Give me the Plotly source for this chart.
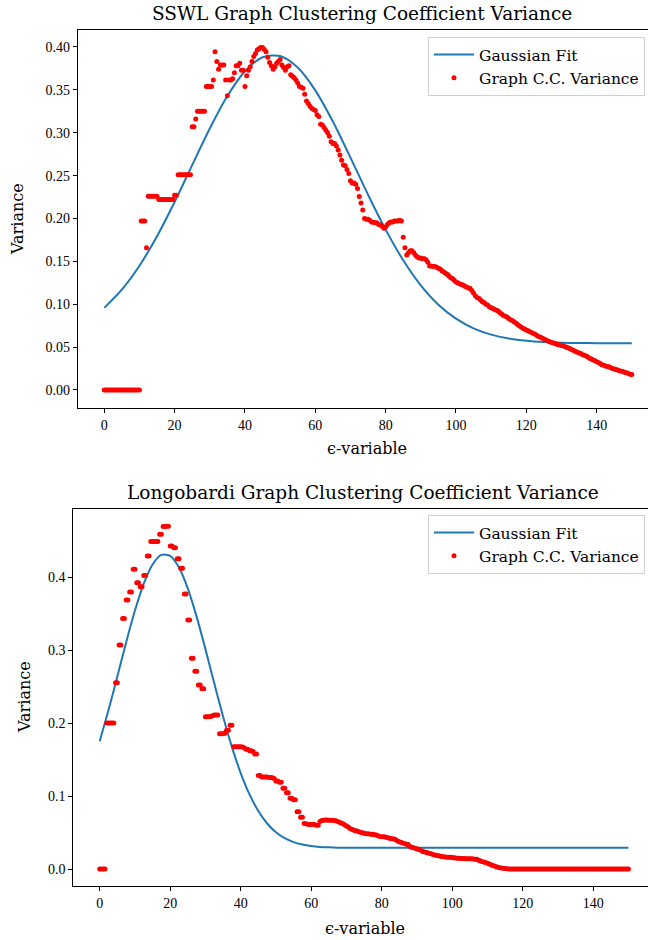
import plotly.graph_objects as go

# epsilon grid of the measurements (step 0.5 from 0 to 150)
eps_grid = [i * 0.5 for i in range(301)]

# SSWL graph clustering-coefficient variance
sswl_variance = [
    0.0, 0.0, 0.0, 0.0, 0.0, 0.0, 0.0, 0.0, 0.0, 0.0,
    0.0, 0.0, 0.0, 0.0, 0.0, 0.0, 0.0, 0.0, 0.0, 0.0,
    0.0, 0.197, 0.197, 0.197, 0.166, 0.226, 0.226, 0.226, 0.226, 0.226,
    0.226, 0.222, 0.222, 0.222, 0.222, 0.222, 0.222, 0.222, 0.222, 0.222,
    0.227, 0.227, 0.251, 0.251, 0.251, 0.251, 0.251, 0.251, 0.251, 0.251,
    0.307, 0.307, 0.316, 0.325, 0.325, 0.325, 0.325, 0.325, 0.354, 0.354,
    0.354, 0.354, 0.3615, 0.3945, 0.383, 0.374, 0.379, 0.379, 0.379, 0.3615,
    0.343, 0.3615, 0.3615, 0.363, 0.370, 0.378, 0.378, 0.381, 0.373, 0.373,
    0.354, 0.3665, 0.373, 0.377, 0.383, 0.389, 0.3925, 0.3965, 0.398, 0.3995,
    0.3995, 0.397, 0.3945, 0.388, 0.382, 0.378, 0.374, 0.377, 0.381, 0.383,
    0.3855, 0.379, 0.376, 0.373, 0.377, 0.378, 0.3675, 0.366, 0.364, 0.3615,
    0.358, 0.354, 0.353, 0.352, 0.345, 0.337, 0.334, 0.331, 0.3285, 0.327,
    0.326, 0.321, 0.319, 0.310, 0.309, 0.306, 0.303, 0.300, 0.296, 0.2895,
    0.2875, 0.2875, 0.2845, 0.280, 0.274, 0.268, 0.2625, 0.2615, 0.257, 0.2525,
    0.244, 0.2415, 0.2415, 0.240, 0.235, 0.2255, 0.218, 0.210, 0.200, 0.199,
    0.199, 0.198, 0.196, 0.1955, 0.195, 0.195, 0.193, 0.1925, 0.191, 0.1885,
    0.190, 0.193, 0.195, 0.196, 0.196, 0.197, 0.197, 0.197, 0.198, 0.197,
    0.178, 0.166, 0.1575, 0.160, 0.1625, 0.1625, 0.160, 0.157, 0.155, 0.154,
    0.154, 0.153, 0.153, 0.152, 0.149, 0.1445, 0.1445, 0.144, 0.144, 0.143,
    0.142, 0.141, 0.139, 0.138, 0.136, 0.135, 0.133, 0.131, 0.130, 0.128,
    0.126, 0.125, 0.124, 0.123, 0.1225, 0.121, 0.120, 0.119, 0.1185, 0.116,
    0.113, 0.110, 0.108, 0.107, 0.105, 0.103, 0.102, 0.100, 0.099, 0.097,
    0.096, 0.095, 0.094, 0.093, 0.092, 0.090, 0.0885, 0.087, 0.086, 0.085,
    0.0835, 0.082, 0.081, 0.0795, 0.078, 0.0765, 0.075, 0.0735, 0.072, 0.071,
    0.070, 0.069, 0.068, 0.067, 0.066, 0.065, 0.0635, 0.0625, 0.0615, 0.0605,
    0.0595, 0.0585, 0.0575, 0.0565, 0.0558, 0.055, 0.0545, 0.0535, 0.053, 0.0525,
    0.052, 0.0515, 0.0505, 0.0498, 0.049, 0.048, 0.047, 0.046, 0.045, 0.044,
    0.0432, 0.0425, 0.0412, 0.0405, 0.0395, 0.0385, 0.037, 0.036, 0.035, 0.034,
    0.033, 0.032, 0.031, 0.0295, 0.0288, 0.028, 0.0275, 0.027, 0.026, 0.0252,
    0.0245, 0.024, 0.0232, 0.0225, 0.022, 0.0215, 0.0205, 0.020, 0.0192, 0.0185,
    0.018,
]

# Longobardi graph clustering-coefficient variance
longo_variance = [
    0.0, 0.0, 0.0, 0.0, 0.2, 0.2, 0.2, 0.2, 0.2, 0.255,
    0.255, 0.307, 0.307, 0.343, 0.343, 0.3685, 0.3685, 0.3795, 0.3795, 0.4105,
    0.4105, 0.392, 0.392, 0.3865, 0.3865, 0.402, 0.402, 0.4288, 0.4288, 0.4485,
    0.4485, 0.4485, 0.4485, 0.4485, 0.4585, 0.4585, 0.469, 0.469, 0.4695, 0.4695,
    0.4425, 0.4425, 0.440, 0.440, 0.425, 0.425, 0.412, 0.412, 0.3767, 0.3767,
    0.341, 0.341, 0.2886, 0.2886, 0.271, 0.271, 0.252, 0.252, 0.247, 0.247,
    0.2086, 0.2086, 0.2086, 0.209, 0.210, 0.211, 0.211, 0.211, 0.1853, 0.1853,
    0.1853, 0.186, 0.190, 0.190, 0.197, 0.197, 0.1675, 0.1675, 0.1675, 0.1675,
    0.1675, 0.167, 0.166, 0.164, 0.164, 0.162, 0.162, 0.161, 0.1575, 0.1575,
    0.128, 0.128, 0.126, 0.126, 0.126, 0.126, 0.1255, 0.1255, 0.125, 0.124,
    0.1205, 0.1205, 0.119, 0.119, 0.1105, 0.1105, 0.1045, 0.1045, 0.0968, 0.0968,
    0.095, 0.095, 0.0785, 0.0785, 0.0708, 0.0708, 0.0625, 0.062, 0.0615, 0.061,
    0.061, 0.0612, 0.0605, 0.060, 0.060, 0.065, 0.0665, 0.067, 0.0672, 0.0672,
    0.067, 0.067, 0.0668, 0.0665, 0.066, 0.065, 0.064, 0.063, 0.062, 0.0605,
    0.059, 0.0575, 0.0557, 0.0545, 0.0535, 0.0525, 0.052, 0.051, 0.0505, 0.0497,
    0.049, 0.0485, 0.0483, 0.048, 0.0478, 0.0475, 0.047, 0.0466, 0.0455, 0.0445,
    0.0443, 0.0443, 0.0438, 0.0433, 0.0425, 0.042, 0.0415, 0.041, 0.040, 0.0385,
    0.0375, 0.0365, 0.0355, 0.035, 0.034, 0.0335, 0.031, 0.030, 0.0293, 0.0285,
    0.0275, 0.027, 0.026, 0.0245, 0.0237, 0.023, 0.0222, 0.0215, 0.021, 0.020,
    0.0193, 0.019, 0.0183, 0.0178, 0.0173, 0.0169, 0.0165, 0.0163, 0.0161, 0.016,
    0.0157, 0.0153, 0.015, 0.0147, 0.0147, 0.0145, 0.0144, 0.0143, 0.0142, 0.0141,
    0.0141, 0.014, 0.0138, 0.0135, 0.0133, 0.012, 0.011, 0.0103, 0.0095, 0.0088,
    0.0078, 0.0068, 0.006, 0.005, 0.004, 0.0032, 0.0025, 0.0018, 0.0013, 0.001,
    0.0006, 0.0003, 0.0001, 0.0, 0.0, 0.0, 0.0, 0.0, 0.0, 0.0,
    0.0, 0.0, 0.0, 0.0, 0.0, 0.0, 0.0, 0.0, 0.0, 0.0,
    0.0, 0.0, 0.0, 0.0, 0.0, 0.0, 0.0, 0.0, 0.0, 0.0,
    0.0, 0.0, 0.0, 0.0, 0.0, 0.0, 0.0, 0.0, 0.0, 0.0,
    0.0, 0.0, 0.0, 0.0, 0.0, 0.0, 0.0, 0.0, 0.0, 0.0,
    0.0, 0.0, 0.0, 0.0, 0.0, 0.0, 0.0, 0.0, 0.0, 0.0,
    0.0, 0.0, 0.0, 0.0, 0.0, 0.0, 0.0, 0.0, 0.0, 0.0,
    0.0,
]

# Gaussian fit curves
sswl_fit_x = [0, 5, 10, 15, 20, 25, 30, 35, 40, 45, 50, 55, 60, 65, 70, 75,
              80, 85, 90, 95, 100, 105, 110, 115, 120, 125, 130, 135, 140, 145, 150]
sswl_fit = [0.0958, 0.1170, 0.1449, 0.1794, 0.2193, 0.2623, 0.3049, 0.3428,
            0.3717, 0.3880, 0.3895, 0.3760, 0.3494, 0.3130, 0.2710, 0.2277,
            0.1870, 0.1513, 0.1221, 0.0995, 0.0832, 0.0719, 0.0646, 0.0601,
            0.0574, 0.0559, 0.0551, 0.0548, 0.0546, 0.0545, 0.0544]

longo_fit_x = [i * 2.5 for i in range(61)]
longo_fit = [0.175, 0.2177, 0.2637, 0.3104, 0.3540, 0.3909, 0.4172, 0.4303,
             0.4288, 0.4129, 0.3842, 0.3457, 0.3012, 0.2544, 0.2089, 0.1673,
             0.1315, 0.1022, 0.0794, 0.0624, 0.0504, 0.0422, 0.0368, 0.0335,
             0.0315, 0.0303, 0.0297, 0.0293, 0.0292, 0.0291, 0.0290,
             0.029, 0.029, 0.029, 0.029, 0.029, 0.029, 0.029, 0.029, 0.029, 0.029,
             0.029, 0.029, 0.029, 0.029, 0.029, 0.029, 0.029, 0.029, 0.029, 0.029,
             0.029, 0.029, 0.029, 0.029, 0.029, 0.029, 0.029, 0.029, 0.029, 0.029]

titles = ["SSWL Graph Clustering Coefficient Variance",
          "Longobardi Graph Clustering Coefficient Variance"]
x_label = "ϵ-variable"
y_label = "Variance"
x_ticks = [0, 20, 40, 60, 80, 100, 120, 140]
sswl_yticks = [0.0, 0.05, 0.10, 0.15, 0.20, 0.25, 0.30, 0.35, 0.40]
longo_yticks = [0.0, 0.1, 0.2, 0.3, 0.4]

TICKFONT = "Liberation Serif"
TEXTFONT = "DejaVu Serif"
BLUE = "#1f77b4"
W, H = 648, 940

fig = go.Figure()

fig.add_trace(go.Scatter(x=sswl_fit_x, y=sswl_fit, mode="lines", line=dict(color=BLUE, width=2, shape="spline", smoothing=0.8),
                         name="Gaussian Fit", xaxis="x", yaxis="y", legend="legend", legendgroup="a"))
fig.add_trace(go.Scatter(x=eps_grid, y=sswl_variance, mode="markers", marker=dict(color="red", size=5, line=dict(width=0)),
                         name="Graph C.C. Variance", xaxis="x", yaxis="y", legend="legend", legendgroup="b"))
fig.add_trace(go.Scatter(x=longo_fit_x, y=longo_fit, mode="lines", line=dict(color=BLUE, width=2, shape="spline", smoothing=0.8),
                         name="Gaussian Fit", xaxis="x2", yaxis="y2", legend="legend2", legendgroup="c"))
fig.add_trace(go.Scatter(x=eps_grid, y=longo_variance, mode="markers", marker=dict(color="red", size=5, line=dict(width=0)),
                         name="Graph C.C. Variance", xaxis="x2", yaxis="y2", legend="legend2", legendgroup="d"))

axis_common = dict(showgrid=False, zeroline=False, showline=True, linecolor="black", linewidth=1,
                   ticks="outside", ticklen=4, tickwidth=1, tickcolor="black",
                   tickfont=dict(family=TICKFONT, size=14, color="black"))

top_dom = [1 - 408 / H, 1 - 30 / H]
bot_dom = [1 - 886.2 / H, 1 - 509.1 / H]

legend_common = dict(xanchor="right", yanchor="top", bgcolor="white", bordercolor="#d0d0d0", borderwidth=1,
                     font=dict(family=TEXTFONT, size=15.5, color="black"), tracegroupgap=0,
                     itemwidth=40)

fig.update_layout(
    width=W, height=H,
    margin=dict(l=0, r=0, t=0, b=0),
    paper_bgcolor="white", plot_bgcolor="white",
    font=dict(family=TEXTFONT, color="black"),
    xaxis=dict(domain=[77.9 / W, 1], range=[-7.5, 154.6], anchor="y", tickvals=x_ticks,
               mirror=True, **axis_common),
    yaxis=dict(domain=top_dom, range=[-0.021, 0.4198], anchor="x", tickvals=sswl_yticks,
               tickformat=".2f", **axis_common),
    xaxis2=dict(domain=[73.26 / W, 1], range=[-7.5, 155.55], anchor="y2", tickvals=x_ticks,
                mirror=True, **axis_common),
    yaxis2=dict(domain=bot_dom, range=[-0.0235, 0.4930], anchor="x2", tickvals=longo_yticks,
                tickformat=".1f", **axis_common),
    legend=dict(x=645 / W, y=1 - 37 / H, **legend_common),
    legend2=dict(x=645 / W, y=1 - 515 / H, **legend_common),
    showlegend=True,
)

def label(text, x, y, size, angle=0):
    return dict(text=text, x=x / W, y=1 - y / H, xref="paper", yref="paper",
                xanchor="center", yanchor="middle", textangle=angle, showarrow=False,
                font=dict(family=TEXTFONT, size=size, color="black"))

fig.update_layout(annotations=[
    label(titles[0], 362, 14, 18.5),
    label(titles[1], 363, 492, 18.5),
    label(x_label, 367, 448, 16),
    label(x_label, 365, 928, 16),
    label(y_label, 18, 219, 16, -90),
    label(y_label, 24, 697, 16, -90),
])

fig.write_html("out.html")
